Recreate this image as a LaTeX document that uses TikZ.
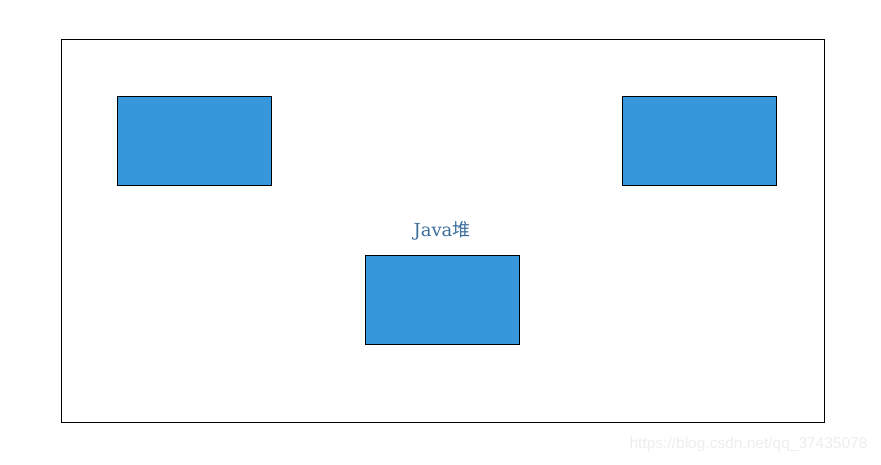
\documentclass[tikz,border=0pt]{standalone}
\usepackage{fontspec}
\setmainfont{DejaVu Serif}
\newfontfamily\cjk{Noto Sans CJK SC}
\newfontfamily\wmfont{Liberation Sans}
\definecolor{boxblue}{HTML}{3797DB}
\definecolor{labelblue}{HTML}{3C6E9C}
\definecolor{wmgray}{HTML}{EDEDED}
\begin{document}
\begin{tikzpicture}[x=1pt,y=-1pt,
  bluebox/.style={draw=black,line width=0.8pt,fill=boxblue,minimum width=154pt,minimum height=89pt,inner sep=0pt,anchor=north west},
  frame/.style={draw=black,line width=0.8pt}]
\useasboundingbox (0,0) rectangle (881,464);
\node[frame,minimum width=763pt,minimum height=383pt,inner sep=0pt,anchor=north west] (heap) at (61,39) {};
\node[bluebox] (b1) at (117,96) {};
\node[bluebox] (b2) at (622,96) {};
\node[bluebox] (b3) at (365,255) {};
\node[text=labelblue,font=\fontsize{18}{20}\selectfont] (lbl) at (442,231) {Java{\cjk 堆}};
\node[text=wmgray,font=\wmfont\fontsize{15.5}{17}\selectfont,anchor=east] (wm) at (871,444) {https://blog.csdn.net/qq\_37435078};
\end{tikzpicture}
\end{document}
